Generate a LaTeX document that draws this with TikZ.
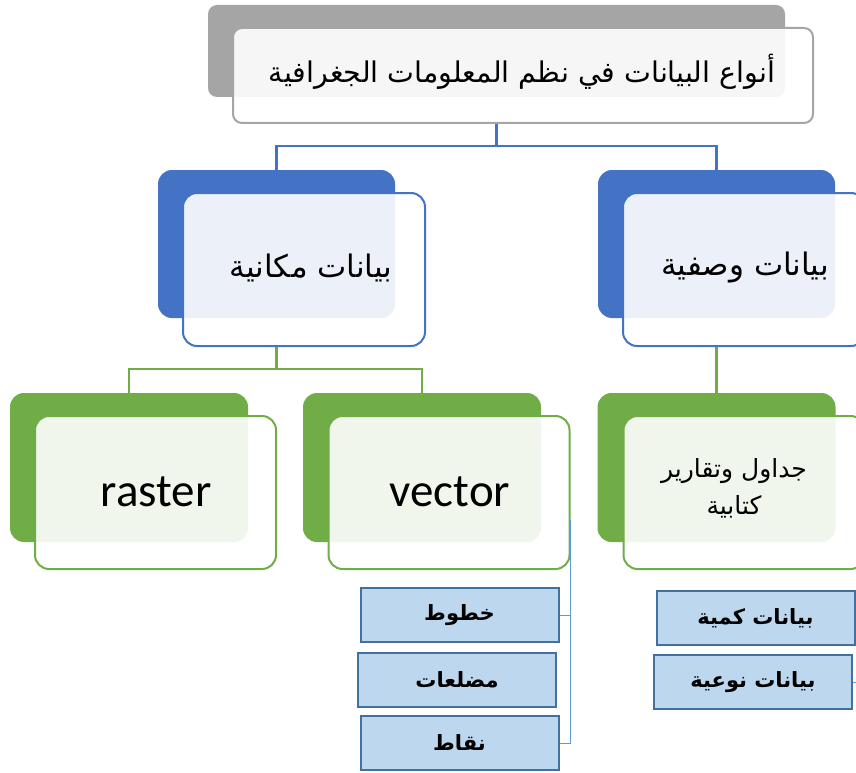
\documentclass[tikz,border=0pt]{standalone}
\usepackage{fontspec}
\setmainfont{Carlito}
\newfontfamily\arabicfont[Script=Arabic]{DejaVu Sans}
\TeXXeTstate=1
\definecolor{tgray}{HTML}{A5A5A5}
\definecolor{tblue}{HTML}{4472C4}
\definecolor{tgreen}{HTML}{70AD47}
\definecolor{sfill}{HTML}{BDD7EE}
\definecolor{sdraw}{HTML}{41719C}
\definecolor{bline}{HTML}{5B9BD5}
\begin{document}
\begin{tikzpicture}[x=1pt, y=-1pt,
  back/.style={rounded corners=14pt, fill=#1, minimum width=237pt, minimum height=148pt, inner sep=0pt},
  front/.style={rounded corners=14pt, draw=#1, line width=2pt, fill=white, fill opacity=0.9, minimum width=242pt, minimum height=153pt, inner sep=0pt},
  small/.style={draw=sdraw, line width=2pt, fill=sfill, minimum width=198pt, minimum height=54pt, inner sep=0pt, font=\arabicfont\bfseries\fontsize{21}{24}\selectfont},
  conn/.style={line width=2.2pt, #1},
  big/.style={font=\arabicfont\fontsize{31}{36}\selectfont, align=center},
  lat/.style={font=\fontsize{47}{50}\selectfont}]
\useasboundingbox (0,0) rectangle (856,773);
\node[rounded corners=9pt, fill=tgray, minimum width=577pt, minimum height=92pt, inner sep=0pt] (tback) at (496.5,51){};
\node[rounded corners=9pt, draw=tgray, line width=2pt, fill=white, fill opacity=0.9, minimum width=580pt, minimum height=95pt, inner sep=0pt] (tfront) at (523,75.5){};
\node[font=\arabicfont\fontsize{28.5}{32}\selectfont] (ttext) at (522,72){\beginR أنواع البيانات في نظم المعلومات الجغرافية\endR};
\node[back=tblue] (sback) at (276.5,244){};
\node[front=tblue] (sfront) at (304,269.5){};
\node[big] (stext) at (311,268){\beginR بيانات مكانية\endR};
\node[back=tblue] (aback) at (716.5,244){};
\node[front=tblue] (afront) at (744,269.5){};
\node[big] (atext) at (745,268){\beginR بيانات وصفية\endR};
\draw[conn=tblue](tback.south |- tfront.south) -- ++(0,22) -| (sback.north);
\draw[conn=tblue](tback.south |- tfront.south) -- ++(0,22) -| (aback.north);
\node[back=tgreen, minimum width=238pt, minimum height=149pt] (rback) at (129,467.5){};
\node[front=tgreen, minimum width=241pt] (rfront) at (155.5,492.5){};
\node[lat] (rtext) at (156,492){raster};
\node[back=tgreen, minimum width=238pt, minimum height=149pt] (vback) at (422,467.5){};
\node[front=tgreen, minimum width=241pt] (vfront) at (449,492.5){};
\node[lat] (vtext) at (450,492){vector};
\node[back=tgreen, minimum width=238pt, minimum height=149pt] (gback) at (716.5,467.5){};
\node[front=tgreen, minimum width=241pt] (gfront) at (744,492.5){};
\node[big, font=\arabicfont\fontsize{25}{37}\selectfont] (gtext) at (734,488){\beginR جداول وتقارير\endR\\\beginR كتابية\endR};
\draw[conn=tgreen](sback.south |- sfront.south) -- ++(0,22) -| (rback.north);
\draw[conn=tgreen](sback.south |- sfront.south) -- ++(0,22) -| (vback.north);
\draw[conn=tgreen](aback.south |- afront.south) -- (gback.north);
\node[small] (lines) at (459.5,615){\beginR خطوط\endR};
\node[small] (polys) at (457,679.5){\beginR مضلعات\endR};
\node[small] (pts) at (459.5,743){\beginR نقاط\endR};
\node[small] (quant) at (755.5,618){\beginR بيانات كمية\endR};
\node[small] (qual) at (753,682){\beginR بيانات نوعية\endR};
\coordinate (vb) at (570,520);
\coordinate (qb) at (856,682);
\draw[line width=0.8pt, bline](lines.east) -| (vb);
\draw[line width=0.8pt, bline](pts.east) -| (vb);
\draw[line width=0.8pt, bline](qual.east) -- (qb);
\end{tikzpicture}
\end{document}
